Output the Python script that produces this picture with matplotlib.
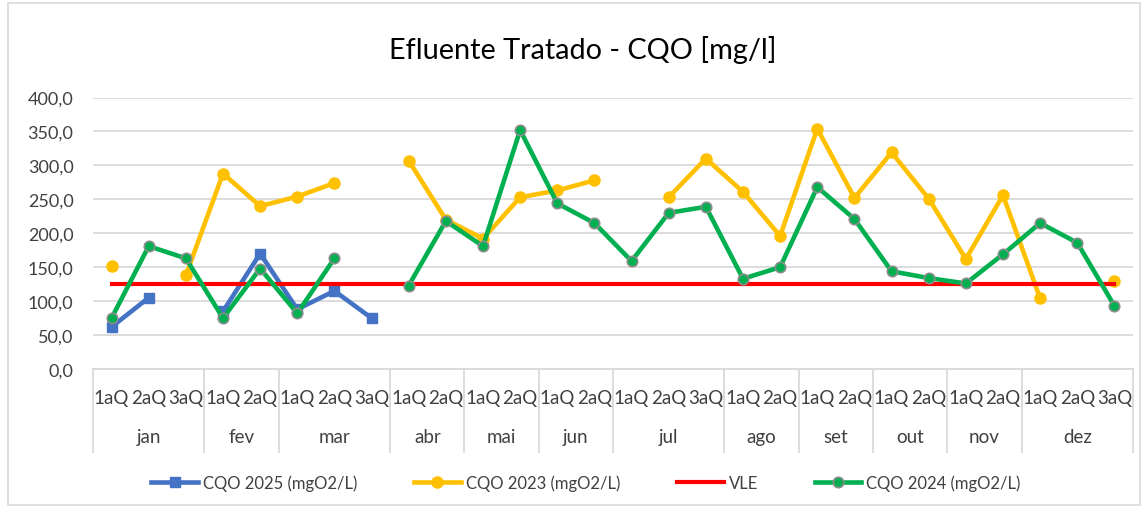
import numpy as np
import matplotlib
matplotlib.use("Agg")
import matplotlib.pyplot as plt
from matplotlib.transforms import blended_transform_factory
from matplotlib.lines import Line2D
from matplotlib.patches import Rectangle

plt.rcParams['font.family'] = ['Lato', 'DejaVu Sans']

nan = np.nan
months = ["jan", "fev", "mar", "abr", "mai", "jun", "jul", "ago", "set", "out", "nov", "dez"]
month_sizes = [3, 2, 3, 2, 2, 2, 3, 2, 2, 2, 2, 3]
sub_labels = ["1aQ", "2aQ", "3aQ"]

cqo_2025 = [62, 105, nan, 85, 170, 88, 115, 75,
            nan, nan, nan, nan, nan, nan, nan, nan, nan, nan, nan, nan,
            nan, nan, nan, nan, nan, nan, nan, nan]
cqo_2023 = [152, nan, 138, 288, 240, 254, 274, nan,
            307, 220, 192, 253, 263, 278, nan, 253, 310, 261, 196, 354,
            252, 319, 251, 162, 256, 104, nan, 130]
vle = [125] * 28
cqo_2024 = [75, 181, 163, 75, 148, 82, 163, nan,
            123, 218, 181, 352, 244, 215, 159, 230, 239, 133, 150, 268,
            221, 144, 134, 126, 169, 215, 186, 93]

cat_labels = []
for n in month_sizes:
    cat_labels += sub_labels[:n]
x = np.arange(len(cat_labels))

W, H = 1146, 510
fig = plt.figure(figsize=(W / 100, H / 100), dpi=100)
L, R, T, B = 93, 1133, 98.5, 370
ax = fig.add_axes([L / W, 1 - B / H, (R - L) / W, (B - T) / H])

fig.patches.append(Rectangle((8 / W, 4 / H), (1140 - 8) / W, (506 - 4) / H,
                             transform=fig.transFigure, fill=False,
                             edgecolor='#d9d9d9', linewidth=1.2))

ax.plot(x, cqo_2025, color='#4472c4', lw=3.3, marker='s', ms=7.5,
        label='CQO 2025 (mgO2/L)', zorder=3)
ax.plot(x, cqo_2023, color='#ffc000', lw=3.3, marker='o', ms=8,
        label='CQO 2023 (mgO2/L)', zorder=4)
ax.plot(x, vle, color='#ff0000', lw=3.0, label='VLE', zorder=5)
ax.plot(x, cqo_2024, color='#00b050', lw=3.3, marker='o', ms=7.5,
        markeredgecolor='#8c8c8c', markeredgewidth=1.2,
        label='CQO 2024 (mgO2/L)', zorder=6)

ax.set_xlim(-0.5, len(x) - 0.5)
ax.set_ylim(0, 400)
ax.set_yticks(np.arange(0, 401, 50))
ax.set_yticklabels([f"{v:.1f}".replace('.', ',') for v in np.arange(0, 401, 50)],
                   fontsize=13, color='#404040')
ax.tick_params(axis='y', length=0, pad=14)
ax.grid(axis='y', color='#d9d9d9', lw=1.3)
ax.set_axisbelow(True)
for s in ['top', 'right', 'left']:
    ax.spines[s].set_visible(False)
ax.spines['bottom'].set_color('#d9d9d9')
ax.spines['bottom'].set_linewidth(1.3)
ax.set_xticks([])

trans = blended_transform_factory(ax.transData, ax.transAxes)
ah = B - T
for xi, lab in zip(x, cat_labels):
    ax.text(xi, -(399 - B) / ah, lab, transform=trans, ha='center', va='center',
            fontsize=13.5, color='#404040')
start = 0
bounds = [-0.5]
for m, n in zip(months, month_sizes):
    ax.text(start + (n - 1) / 2, -(438 - B) / ah, m, transform=trans,
            ha='center', va='center', fontsize=13.5, color='#404040')
    start += n
    bounds.append(start - 0.5)
for b in bounds:
    ax.add_line(Line2D([b, b], [0, -(453 - B) / ah], transform=trans,
                       color='#d9d9d9', lw=1.3, clip_on=False))

fig.text(0.5 * (388 + 778) / W, 1 - 50 / H, "Efluente Tratado - CQO [mg/l]",
         ha='center', va='center', fontsize=20.8, color='#000000')

fig.legend(loc='center', bbox_to_anchor=(586 / W, 1 - 484 / H), ncol=4,
           frameon=False, fontsize=12, handlelength=2.8, handletextpad=0.3,
           columnspacing=3.4, labelcolor='#404040')

fig.savefig('out.png', dpi=100)
